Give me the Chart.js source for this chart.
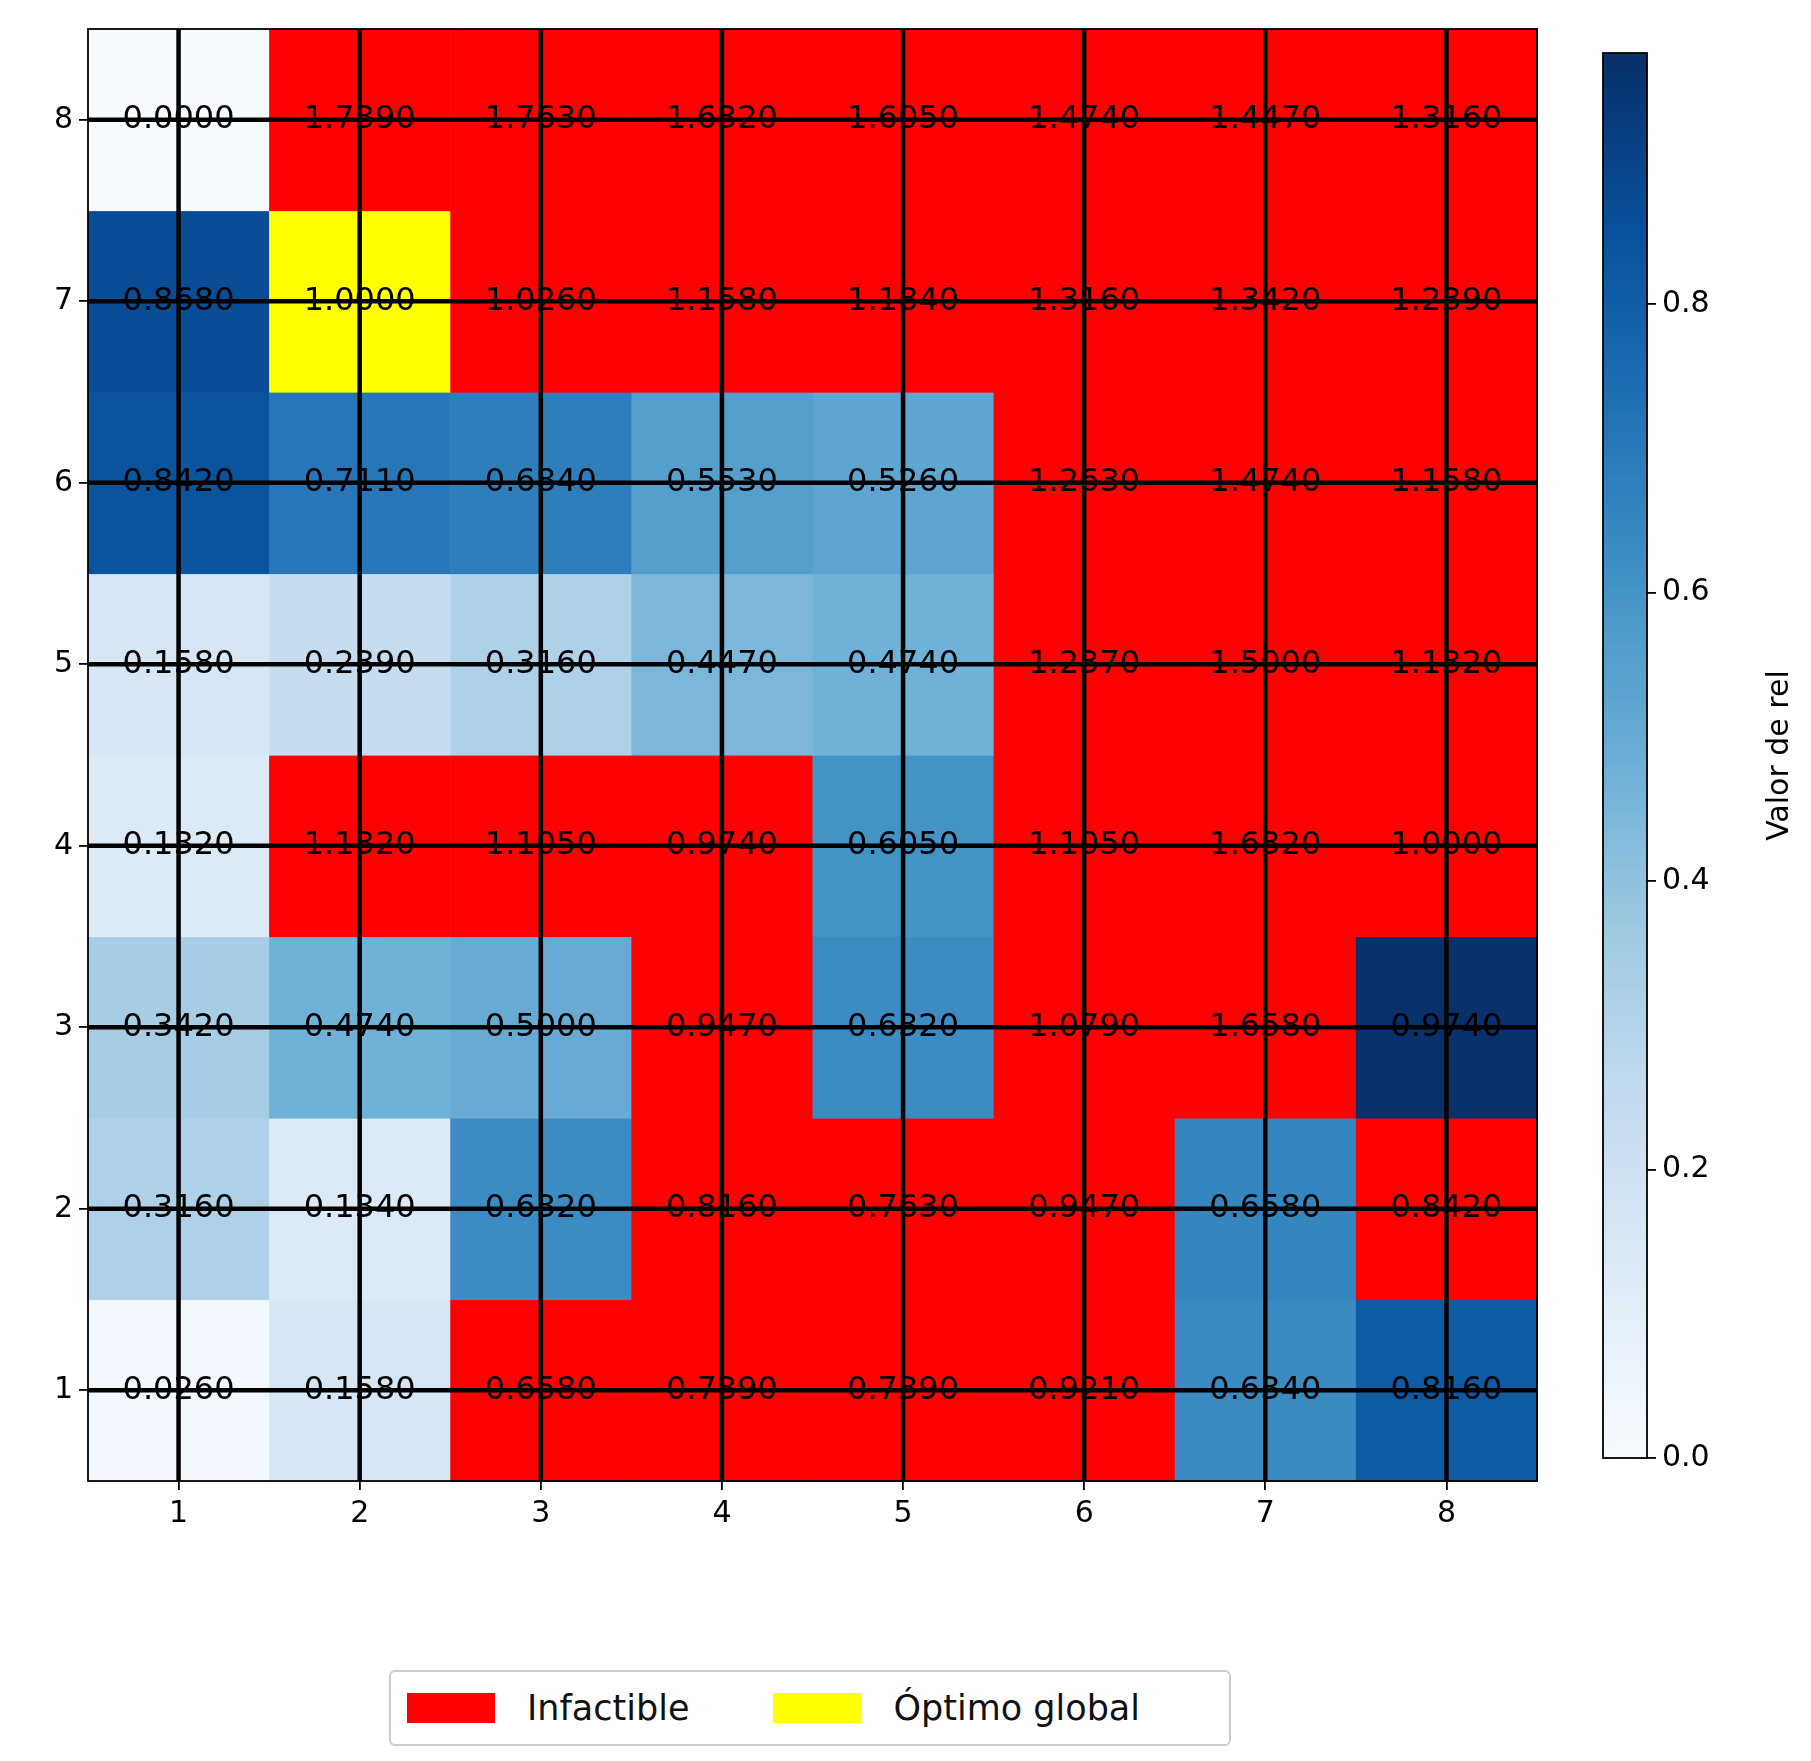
<!DOCTYPE html>
<html><head><meta charset="utf-8">
<script src="https://cdn.jsdelivr.net/npm/chart.js@4"></script>
<style>
body{margin:0;background:#fff;width:1811px;height:1761px;position:relative;font-family:"DejaVu Sans";}
#main{position:absolute;left:0;top:0;}
#cb{position:absolute;left:1560px;top:0;}
#legend{position:absolute;left:389px;top:1670px;width:842px;height:76px;border:2px solid #ccc;border-radius:6px;box-sizing:border-box;display:flex;align-items:center;font-size:35px;color:#111;}
.sw{display:inline-block;width:88px;height:30px;margin-left:16px;margin-right:32px;}
</style></head><body>
<canvas id="main" width="1560" height="1560" style="width:1560px;height:1560px"></canvas>
<canvas id="cb" width="251" height="1560" style="width:251px;height:1560px"></canvas>
<div id="legend"><span class="sw" style="background:#ff0000"></span><span>Infactible</span><span class="sw" style="background:#ffff00;margin-left:84px"></span><span>Óptimo global</span></div>
<script>
const xLabels=[1,2,3,4,5,6,7,8];
const yLabels=[1,2,3,4,5,6,7,8];
// rows from y=1 to y=8
const values=[
[0.0260,0.1580,0.6580,0.7390,0.7390,0.9210,0.6340,0.8160],
[0.3160,0.1340,0.6320,0.8160,0.7630,0.9470,0.6580,0.8420],
[0.3420,0.4740,0.5000,0.9470,0.6320,1.0790,1.6580,0.9740],
[0.1320,1.1320,1.1050,0.9740,0.6050,1.1050,1.6320,1.0000],
[0.1580,0.2390,0.3160,0.4470,0.4740,1.2370,1.5000,1.1320],
[0.8420,0.7110,0.6840,0.5530,0.5260,1.2630,1.4740,1.1580],
[0.8680,1.0000,1.0260,1.1580,1.1840,1.3160,1.3420,1.2390],
[0.0000,1.7390,1.7630,1.6320,1.6050,1.4740,1.4470,1.3160]];
// F feasible, I infeasible, G global optimum
const status=[
"FFIIIIFF",
"FFFIIIFI",
"FFFIFIIF",
"FIIIFIII",
"FFFFFIII",
"FFFFFIII",
"FGIIIIII",
"FIIIIIII"];
const cbTicks=[0,0.2,0.4,0.6,0.8];
const vmax=0.974;
const blues=[[247,251,255],[222,235,247],[198,219,239],[158,202,225],[107,174,214],[66,146,198],[33,113,181],[8,81,156],[8,48,107]];
function blueColor(t){t=Math.max(0,Math.min(1,t));const p=t*8,i=Math.min(7,Math.floor(p)),f=p-i;const a=blues[i],b=blues[i+1];
return `rgb(${a.map((v,k)=>Math.round(v+(b[k]-v)*f)).join(',')})`;}
const font='"DejaVu Sans"';
const heat={id:'heat',beforeDatasetsDraw(c){
 const ctx=c.ctx,xs=c.scales.x,ys=c.scales.y,a=c.chartArea;ctx.save();
 for(let r=0;r<8;r++)for(let k=0;k<8;k++){
  const s=status[r][k],v=values[r][k];
  const x0=xs.getPixelForValue(xLabels[k]-0.5),x1=xs.getPixelForValue(xLabels[k]+0.5);
  const y0=ys.getPixelForValue(yLabels[r]+0.5),y1=ys.getPixelForValue(yLabels[r]-0.5);
  ctx.fillStyle=s==='I'?'#ff0000':s==='G'?'#ffff00':blueColor(v/vmax);
  ctx.fillRect(x0,y0,x1-x0+0.6,y1-y0+0.6);}
 ctx.strokeStyle='#000';ctx.lineWidth=4.5;
 xLabels.forEach(x=>{const p=xs.getPixelForValue(x);ctx.beginPath();ctx.moveTo(p,a.top);ctx.lineTo(p,a.bottom);ctx.stroke();});
 yLabels.forEach(y=>{const p=ys.getPixelForValue(y);ctx.beginPath();ctx.moveTo(a.left,p);ctx.lineTo(a.right,p);ctx.stroke();});
 ctx.fillStyle='#000';ctx.font='32px '+font;ctx.textAlign='center';ctx.textBaseline='middle';
 for(let r=0;r<8;r++)for(let k=0;k<8;k++)ctx.fillText(values[r][k].toFixed(4),xs.getPixelForValue(xLabels[k]),ys.getPixelForValue(yLabels[r]));
 ctx.lineWidth=1.8;ctx.strokeRect(a.left,a.top,a.right-a.left,a.bottom-a.top);
 ctx.restore();}};
const axisCommon={min:0.5,max:8.5,grid:{drawOnChartArea:false,drawTicks:true,tickLength:9,color:'#000',lineWidth:1.8},border:{display:false},
 ticks:{color:'#000',font:{family:font,size:30},padding:6},afterBuildTicks(s){s.ticks=xLabels.map(v=>({value:v}));}};
new Chart(document.getElementById('main'),{type:'scatter',data:{datasets:[{data:[]}]},plugins:[heat],
 options:{responsive:false,animation:false,events:[],layout:{padding:{top:29,right:23,left:0,bottom:0}},
 plugins:{legend:{display:false},tooltip:{enabled:false}},
 scales:{x:{...axisCommon,afterFit(s){s.height=79;}},
  y:{...axisCommon,afterBuildTicks(s){s.ticks=yLabels.map(v=>({value:v}));},afterFit(s){s.width=88;}}}}});
const cbPlug={id:'cbp',beforeDatasetsDraw(c){const ctx=c.ctx,a=c.chartArea,ys=c.scales.y;ctx.save();
 const steps=200;for(let i=0;i<steps;i++){const v0=vmax*i/steps,v1=vmax*(i+1)/steps;const p0=ys.getPixelForValue(v0),p1=ys.getPixelForValue(v1);
 ctx.fillStyle=blueColor(i/(steps-1));ctx.fillRect(a.left,p1,a.right-a.left,p0-p1+0.8);}
 ctx.strokeStyle='#000';ctx.lineWidth=1.8;ctx.strokeRect(a.left,a.top,a.right-a.left,a.bottom-a.top);
 ctx.translate(a.right+133,(a.top+a.bottom)/2);ctx.rotate(-Math.PI/2);ctx.fillStyle='#000';ctx.font='30px '+font;ctx.textAlign='center';ctx.textBaseline='middle';
 ctx.fillText('Valor de rel',0,0);ctx.restore();}};
new Chart(document.getElementById('cb'),{type:'scatter',data:{datasets:[{data:[]}]},plugins:[cbPlug],
 options:{responsive:false,animation:false,events:[],layout:{padding:{top:53,left:43,bottom:102,right:0}},
 plugins:{legend:{display:false},tooltip:{enabled:false}},
 scales:{x:{display:false,min:0,max:1},
  y:{position:'right',min:0,max:vmax,grid:{drawOnChartArea:false,tickLength:9,color:'#000',lineWidth:1.8},border:{display:false},
   afterBuildTicks(s){s.ticks=cbTicks.map(v=>({value:v}));},
   ticks:{color:'#000',font:{family:font,size:30},padding:6,callback:v=>Number(v).toFixed(1)},afterFit(s){s.width=164;}}}}});
</script></body></html>
